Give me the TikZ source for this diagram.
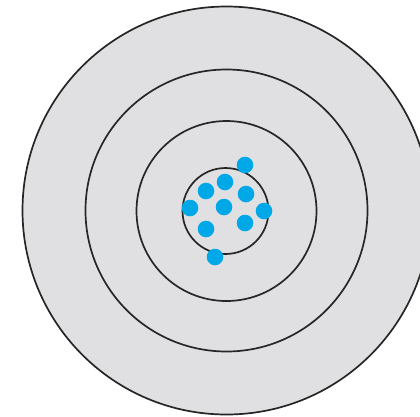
\documentclass[tikz,border=0pt]{standalone}
\begin{document}
\begin{tikzpicture}[x=1pt,y=-1pt,
  ring/.style={draw=black!85, line width=1.7pt, fill=ringgray},
  hit/.style={fill=hitblue, draw=none}]
\definecolor{ringgray}{RGB}{224,224,226}
\definecolor{hitblue}{RGB}{0,168,232}
\useasboundingbox (0,0) rectangle (420,416);
\fill[white] (0,0) rectangle (420,416);
\clip (0,0) rectangle (420,416);
\draw[ring] (226.5,210.5) circle[radius=204];
\draw[ring] (226.5,210.5) circle[radius=141];
\draw[ring] (226.5,211) circle[radius=90];
\draw[ring] (225.5,211) circle[radius=43];
\foreach \p in {(245,165),(225,182),(206,191),(246,194),(190,208),(224,207),(264,211),(206,229),(245,223),(215,257)}
  \fill[hit] \p circle[radius=8.3];
\end{tikzpicture}
\end{document}
